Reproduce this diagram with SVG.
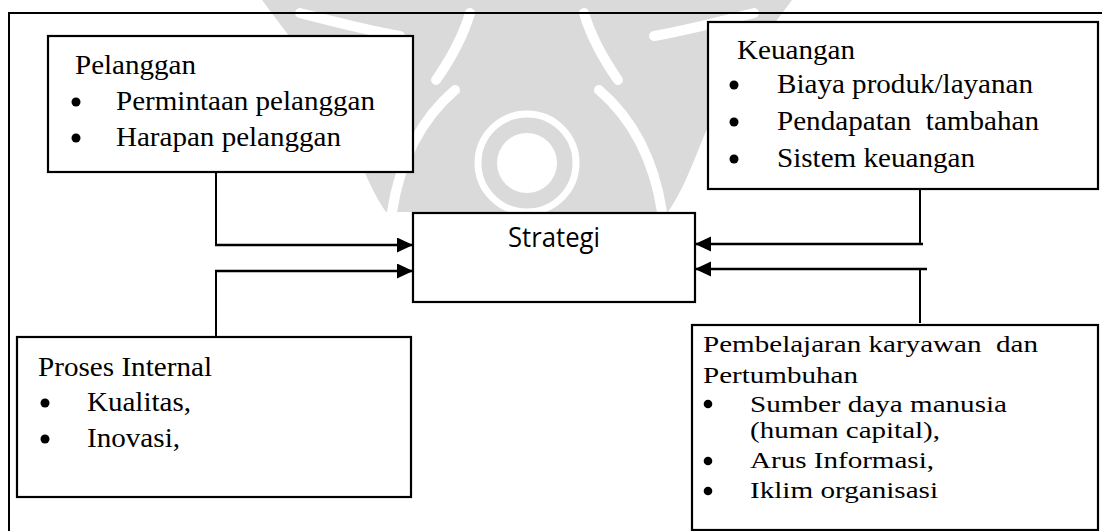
<svg xmlns="http://www.w3.org/2000/svg" width="1102" height="531" viewBox="0 0 1102 531">
  <defs>
    <style>
      .box { fill: #fff; stroke: #000; stroke-width: 2.2; }
      .serif { font-family: "Liberation Serif", "Times New Roman", Tinos, serif; fill: #000; }
      .t25 { font-size: 27px; }
      .t22 { font-size: 24px; }
      .sans { font-family: "Open Sans", "Noto Sans", sans-serif; font-size: 27px; fill: #000; }
      .wire { fill: none; stroke: #000; stroke-width: 2.6; }
      .stub { fill: none; stroke: #000; stroke-width: 2; }
      .wm { fill: #dadada; }
      .wmcut { fill: none; stroke: #fff; stroke-width: 10; stroke-linecap: round; }
    </style>
    <marker id="head" markerUnits="userSpaceOnUse" markerWidth="17" markerHeight="16" refX="16" refY="7.5" orient="auto">
      <path d="M0,0 L16,7.5 L0,15 Z" fill="#000"/>
    </marker>
  </defs>

  <rect width="1102" height="531" fill="#fff"/>

  <!-- faint emblem behind the chart -->
  <g id="emblem">
    <path class="wm" d="M262,0 L792,0 C770,30 745,60 720,100 C700,140 690,180 668,212 L386,212 C364,180 354,140 334,100 C309,60 284,30 262,0 Z"/>
    <path class="wmcut" d="M300,13 C335,22 365,30 400,36"/>
    <path class="wmcut" d="M754,13 C719,22 689,30 654,36"/>
    <path class="wmcut" d="M470,13 C462,40 450,60 436,80"/>
    <path class="wmcut" d="M584,13 C592,40 604,60 618,80"/>
    <path class="wmcut" d="M392,212 C400,160 420,120 455,90"/>
    <path class="wmcut" d="M662,212 C654,160 634,120 599,90"/>
    <circle cx="527" cy="163" r="49" fill="none" stroke="#fff" stroke-width="7"/>
    <circle cx="527" cy="163" r="30" fill="#fff"/>
  </g>

  <!-- outer frame -->
  <path d="M9,531 V13 H1102" fill="none" stroke="#000" stroke-width="2"/>

  <!-- connectors -->
  <g id="connectors">
    <path class="stub" d="M216,172 V245"/>
    <path class="wire" d="M215,245 H413" marker-end="url(#head)"/>
    <path class="stub" d="M216,337 V271"/>
    <path class="wire" d="M215,271 H413" marker-end="url(#head)"/>
    <path class="stub" d="M920,189 V244"/>
    <path class="wire" d="M923,244 H695" marker-end="url(#head)"/>
    <path class="stub" d="M920,269 V323"/>
    <path class="wire" d="M927,269 H695" marker-end="url(#head)"/>
  </g>

  <g id="pelanggan">
    <rect class="box" x="48" y="36" width="365" height="136"/>
    <text class="serif t25" x="75" y="74" textLength="121" lengthAdjust="spacingAndGlyphs">Pelanggan</text>
    <circle cx="76" cy="102" r="4.5"/>
    <text class="serif t25" x="116" y="110" textLength="259" lengthAdjust="spacingAndGlyphs">Permintaan pelanggan</text>
    <circle cx="76" cy="138" r="4.5"/>
    <text class="serif t25" x="116" y="146" textLength="225" lengthAdjust="spacingAndGlyphs">Harapan pelanggan</text>
  </g>

  <g id="keuangan">
    <rect class="box" x="708" y="22" width="390" height="167"/>
    <text class="serif t25" x="737" y="59" textLength="118" lengthAdjust="spacingAndGlyphs">Keuangan</text>
    <circle cx="734" cy="85" r="4.5"/>
    <text class="serif t25" x="777" y="93" textLength="256" lengthAdjust="spacingAndGlyphs">Biaya produk/layanan</text>
    <circle cx="734" cy="122" r="4.5"/>
    <text class="serif t25" x="777" y="130" textLength="262" lengthAdjust="spacingAndGlyphs" xml:space="preserve">Pendapatan  tambahan</text>
    <circle cx="734" cy="159" r="4.5"/>
    <text class="serif t25" x="777" y="167" textLength="198" lengthAdjust="spacingAndGlyphs">Sistem keuangan</text>
  </g>

  <g id="strategi">
    <rect class="box" x="413" y="213" width="282" height="89"/>
    <text class="sans" x="508" y="247" textLength="92" lengthAdjust="spacingAndGlyphs">Strategi</text>
  </g>

  <g id="proses-internal">
    <rect class="box" x="17" y="337" width="394" height="160"/>
    <text class="serif t25" x="38" y="376" textLength="174" lengthAdjust="spacingAndGlyphs">Proses Internal</text>
    <circle cx="45" cy="403" r="4.5"/>
    <text class="serif t25" x="87" y="411" textLength="104" lengthAdjust="spacingAndGlyphs">Kualitas,</text>
    <circle cx="45" cy="439" r="4.5"/>
    <text class="serif t25" x="87" y="447" textLength="93" lengthAdjust="spacingAndGlyphs">Inovasi,</text>
  </g>

  <g id="pembelajaran">
    <rect class="box" x="692" y="325" width="406" height="205"/>
    <text class="serif t22" x="703" y="352" textLength="335" lengthAdjust="spacingAndGlyphs" xml:space="preserve">Pembelajaran karyawan  dan</text>
    <text class="serif t22" x="703" y="383" textLength="155" lengthAdjust="spacingAndGlyphs">Pertumbuhan</text>
    <circle cx="708" cy="404" r="4.3"/>
    <text class="serif t22" x="750" y="412" textLength="257" lengthAdjust="spacingAndGlyphs">Sumber daya manusia</text>
    <text class="serif t22" x="750" y="438" textLength="190" lengthAdjust="spacingAndGlyphs">(human capital),</text>
    <circle cx="708" cy="461" r="4.3"/>
    <text class="serif t22" x="750" y="468" textLength="184" lengthAdjust="spacingAndGlyphs">Arus Informasi,</text>
    <circle cx="708" cy="491" r="4.3"/>
    <text class="serif t22" x="750" y="498" textLength="188" lengthAdjust="spacingAndGlyphs">Iklim organisasi</text>
  </g>
</svg>
